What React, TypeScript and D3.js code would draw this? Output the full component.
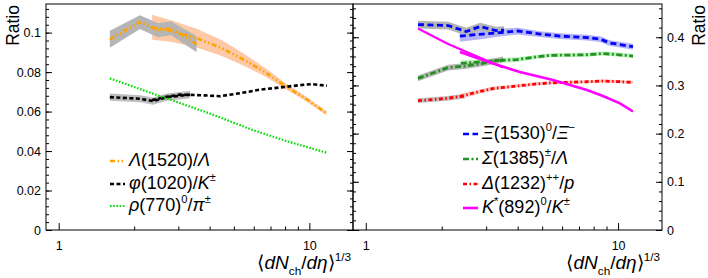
import { useEffect, useRef } from 'react';
import * as d3 from 'd3';

// ---- left panel data ----
const lambdaLowX = [1.6, 2.11, 2.49, 2.81, 3.55];
const lambdaLowY = [0.0966, 0.1053, 0.1012, 0.1022, 0.0941];
const lambdaLowErr = [0.0043, 0.0035, 0.0035, 0.0035, 0.004];
const lambdaX = [2.36, 2.83, 3.55, 4.48, 5.53, 6.65, 8.14, 9.6, 11.7];
const lambdaY = [0.1027, 0.1007, 0.0972, 0.0921, 0.086, 0.08, 0.0724, 0.0668, 0.0592];
const lambdaErr = [0.0063, 0.0055, 0.0048, 0.004, 0.003, 0.0022, 0.0015, 0.0012, 0.001];

const phiLowX = [1.6, 2.11, 2.38, 2.7, 3.34];
const phiLowY = [0.0673, 0.0665, 0.0653, 0.0673, 0.0686];
const phiLowErr = [0.0018, 0.0018, 0.0018, 0.0018, 0.0018];
const phiX = [2.36, 2.65, 3.05, 3.66, 4.4, 5.29, 6.35, 7.63, 9.17, 10.24, 11.75];
const phiY = [0.0658, 0.0673, 0.0686, 0.0683, 0.0678, 0.0693, 0.0711, 0.0722, 0.0734, 0.0739, 0.0731];

const rhoX = [1.6, 2.54, 4.01, 5.96, 8.37, 11.75];
const rhoY = [0.0768, 0.0678, 0.059, 0.0506, 0.0445, 0.0391];

// ---- right panel data ----
const xiLowX = [1.61, 2.12, 2.5, 2.84, 3.28, 3.53];
const xiLowY = [0.4263, 0.4243, 0.4118, 0.4222, 0.4139, 0.4149];
const xiLowErr = [0.008, 0.008, 0.008, 0.008, 0.008, 0.008];
const xiX = [2.36, 2.91, 3.4, 4.01, 4.9, 5.89, 7.53, 8.48, 9.29, 10.17, 11.46];
const xiY = [0.4025, 0.4066, 0.4097, 0.4129, 0.4066, 0.4025, 0.3994, 0.3963, 0.388, 0.3849, 0.3803];
const xiErr = [0.012, 0.01, 0.008, 0.007, 0.006, 0.006, 0.006, 0.006, 0.006, 0.006, 0.006];

const sigmaLowX = [1.61, 2.12, 2.47, 2.91, 3.5];
const sigmaLowY = [0.3147, 0.3371, 0.3402, 0.3459, 0.3541];
const sigmaLowErr = [0.006, 0.006, 0.006, 0.006, 0.006];
const sigmaX = [2.38, 3.11, 3.97, 4.68, 5.37, 6.45, 7.53, 8.71, 9.9, 11.46];
const sigmaY = [0.3458, 0.3506, 0.3537, 0.3589, 0.3624, 0.3631, 0.3637, 0.3662, 0.3641, 0.361];
const sigmaErr = [0.006, 0.005, 0.005, 0.004, 0.004, 0.004, 0.004, 0.004, 0.004, 0.004];

const deltaLowX = [1.61, 2.06, 2.47];
const deltaLowY = [0.2683, 0.2728, 0.278];
const deltaLowErr = [0.005, 0.005, 0.005];
const deltaX = [2.36, 2.78, 3.19, 3.97, 4.68, 5.52, 7.53, 8.71, 9.9, 11.46];
const deltaY = [0.277, 0.2863, 0.2936, 0.2988, 0.3029, 0.3056, 0.3077, 0.3091, 0.3081, 0.3064];
const deltaErr = [0.005, 0.004, 0.004, 0.003, 0.003, 0.003, 0.003, 0.003, 0.003, 0.003];

const kstarLowX = [1.61, 2.12, 3.5];
const kstarLowY = [0.4181, 0.3859, 0.3371];
const kstarX = [2.36, 3.11, 4.08, 5.52, 7.53, 8.71, 10.17, 11.46];
const kstarY = [0.3693, 0.3475, 0.3278, 0.3112, 0.2905, 0.278, 0.2629, 0.2459];

// ---- axes ----
const xMajor = [1, 10];
const xMinor = [2, 3, 4, 5, 6, 7, 8, 9];
const leftMajor = [0, 0.02, 0.04, 0.06, 0.08, 0.1];
const rightMajor = [0, 0.1, 0.2, 0.3, 0.4];

type Seg = { t: string; it?: boolean; sup?: boolean; sub?: boolean };

const FONT = "'Liberation Sans', Arial, Helvetica, sans-serif";

function richText(g: any, x: number, y: number, segs: Seg[], size: number, anchor = "start") {
    const text = g.append("text")
        .attr("x", x).attr("y", y)
        .attr("font-size", size)
        .attr("text-anchor", anchor)
        .attr("fill", "black");
    let shift = 0;
    segs.forEach(s => {
        const target = s.sup ? -0.42 * size : s.sub ? 0.3 * size : 0;
        const ts = text.append("tspan").text(s.t).attr("dy", target - shift);
        shift = target;
        if (s.it) ts.attr("font-style", "italic");
        if (s.sup || s.sub) ts.attr("font-size", size * 0.62);
    });
    return text;
}

export default function App() {
    const ref = useRef<SVGSVGElement>(null);

    useEffect(() => {
        if (!ref.current) return;
        const svg = d3.select(ref.current);
        svg.selectAll("*").remove();

        const top = 4, bottom = 230;
        const xDomain: [number, number] = [0.89, 14.93];
        const xL = d3.scaleLog().domain(xDomain).range([46, 353]);
        const xR = d3.scaleLog().domain(xDomain).range([353, 662]);
        const yL = d3.scaleLinear().domain([0, 0.1145]).range([bottom, top]);
        const yR = d3.scaleLinear().domain([0, 0.469]).range([bottom, top]);

        const root = svg.append("g").style("font-family", FONT);

        const bandsAndLines = (
            g: any, x: any, y: any,
            series: { xs: number[]; ys: number[]; err?: number[]; fill?: string; color: string; dash: string; width: number }[]
        ) => {
            const bandG = g.append("g");
            const lineG = g.append("g");
            series.forEach(s => {
                const pts = s.xs.map((v, i) => ({ x: v, y: s.ys[i], e: s.err ? s.err[i] : 0 }));
                if (s.err && s.fill) {
                    bandG.append("path")
                        .datum(pts)
                        .attr("fill", s.fill)
                        .attr("d", d3.area<any>()
                            .x(d => x(d.x))
                            .y0(d => y(d.y - d.e))
                            .y1(d => y(d.y + d.e)));
                }
                lineG.append("path")
                    .datum(pts)
                    .attr("fill", "none")
                    .attr("stroke", s.color)
                    .attr("stroke-width", s.width)
                    .attr("stroke-dasharray", s.dash)
                    .attr("d", d3.line<any>().x(d => x(d.x)).y(d => y(d.y)));
            });
        };

        const ORANGE = "#ffa200", GREEN = "#00dd00", FOREST = "#259125";
        const DASH_L = "5,2.5,1.5,2.5,1.5,2.5";
        const DASH_PHI = "4,2.5";
        const DASH_RHO = "1.6,1.6";
        const DASH_XI = "6,3.5";
        const DASH_SIG = "6,2.5,2,2.5";
        const DASH_DEL = "4,2.5,1.5,2.5";

        // Left panel curves
        bandsAndLines(root.append("g"), xL, yL, [
            { xs: lambdaX, ys: lambdaY, err: lambdaErr, fill: "#fdc9a6", color: ORANGE, dash: DASH_L, width: 2.6 },
            { xs: lambdaLowX, ys: lambdaLowY, err: lambdaLowErr, fill: "#b5b5b5", color: ORANGE, dash: DASH_L, width: 2.6 },
            { xs: phiLowX, ys: phiLowY, err: phiLowErr, fill: "#bdbdbd", color: "black", dash: DASH_PHI, width: 2.6 },
            { xs: phiX, ys: phiY, color: "black", dash: DASH_PHI, width: 2.6 },
            { xs: rhoX, ys: rhoY, color: GREEN, dash: DASH_RHO, width: 2.2 },
        ]);

        // Right panel curves
        bandsAndLines(root.append("g"), xR, yR, [
            { xs: xiX, ys: xiY, err: xiErr, fill: "#b4b4f6", color: "#0000ff", dash: DASH_XI, width: 2.8 },
            { xs: xiLowX, ys: xiLowY, err: xiLowErr, fill: "#b5b5b5", color: "#0000ff", dash: DASH_XI, width: 2.8 },
            { xs: sigmaX, ys: sigmaY, err: sigmaErr, fill: "#b6f2b6", color: FOREST, dash: DASH_SIG, width: 2.8 },
            { xs: sigmaLowX, ys: sigmaLowY, err: sigmaLowErr, fill: "#b5b5b5", color: FOREST, dash: DASH_SIG, width: 2.8 },
            { xs: deltaX, ys: deltaY, err: deltaErr, fill: "#ffc0c0", color: "#ff0000", dash: DASH_DEL, width: 2.8 },
            { xs: deltaLowX, ys: deltaLowY, err: deltaLowErr, fill: "#c0c0c0", color: "#ff0000", dash: DASH_DEL, width: 2.8 },
            { xs: kstarX, ys: kstarY, color: "#ff00ff", dash: "none", width: 2.6 },
            { xs: kstarLowX, ys: kstarLowY, color: "#ff00ff", dash: "none", width: 2.2 },
        ]);

        // Frames
        root.append("rect").attr("x", 46).attr("y", top).attr("width", 307).attr("height", bottom - top)
            .attr("fill", "none").attr("stroke", "black").attr("stroke-width", 1);
        root.append("rect").attr("x", 353).attr("y", top).attr("width", 309).attr("height", bottom - top)
            .attr("fill", "none").attr("stroke", "black").attr("stroke-width", 1);

        const styleAxis = (g: any) => {
            g.select(".domain").remove();
            g.selectAll("line").attr("stroke", "black");
            g.selectAll("text").attr("fill", "black").style("font-family", FONT).style("font-size", "12.5px");
        };

        const leftMinor = d3.range(0, 0.1145, 0.004);
        const rightMinor = d3.range(0, 0.469, 0.02);

        // Left y axis
        root.append("g").attr("transform", "translate(46,0)")
            .call(d3.axisLeft(yL).tickValues(leftMinor).tickSizeInner(-3).tickSizeOuter(0).tickFormat(() => ""))
            .call(styleAxis);
        root.append("g").attr("transform", "translate(46,0)")
            .call(d3.axisLeft(yL).tickValues(leftMajor).tickSizeInner(-6).tickSizeOuter(0).tickPadding(5)
                .tickFormat(d => String(+(+d).toFixed(3))))
            .call(styleAxis);
        // Left panel right side ticks
        root.append("g").attr("transform", "translate(353,0)")
            .call(d3.axisRight(yL).tickValues(leftMinor).tickSizeInner(-3).tickSizeOuter(0).tickFormat(() => ""))
            .call(styleAxis);
        root.append("g").attr("transform", "translate(353,0)")
            .call(d3.axisRight(yL).tickValues(leftMajor).tickSizeInner(-6).tickSizeOuter(0).tickFormat(() => ""))
            .call(styleAxis);
        // Right panel left side ticks
        root.append("g").attr("transform", "translate(353,0)")
            .call(d3.axisLeft(yR).tickValues(rightMinor).tickSizeInner(-3).tickSizeOuter(0).tickFormat(() => ""))
            .call(styleAxis);
        root.append("g").attr("transform", "translate(353,0)")
            .call(d3.axisLeft(yR).tickValues(rightMajor).tickSizeInner(-6).tickSizeOuter(0).tickFormat(() => ""))
            .call(styleAxis);
        // Right y axis
        root.append("g").attr("transform", "translate(662,0)")
            .call(d3.axisRight(yR).tickValues(rightMinor).tickSizeInner(-3).tickSizeOuter(0).tickFormat(() => ""))
            .call(styleAxis);
        root.append("g").attr("transform", "translate(662,0)")
            .call(d3.axisRight(yR).tickValues(rightMajor).tickSizeInner(-6).tickSizeOuter(0).tickPadding(5)
                .tickFormat(d => String(+(+d).toFixed(2))))
            .call(styleAxis);

        // X axes
        [xL, xR].forEach(x => {
            root.append("g").attr("transform", `translate(0,${bottom})`)
                .call(d3.axisBottom(x).tickValues(xMinor).tickSizeInner(-3.5).tickSizeOuter(0).tickFormat(() => ""))
                .call(styleAxis);
            root.append("g").attr("transform", `translate(0,${bottom})`)
                .call(d3.axisBottom(x).tickValues(xMajor).tickSizeInner(-7).tickSizeOuter(0).tickPadding(11)
                    .tickFormat(d => String(d)))
                .call(styleAxis);
        });

        // Axis titles
        const xTitle: Seg[] = [
            { t: "⟨" }, { t: "dN", it: true }, { t: "ch", sub: true }, { t: "/" },
            { t: "d", it: true }, { t: "η", it: true }, { t: "⟩" }, { t: "1/3", sup: true },
        ];
        richText(root, 351, 269, xTitle, 19, "end");
        richText(root, 660, 269, xTitle, 19, "end");

        root.append("text").attr("transform", "translate(19,5) rotate(-90)")
            .attr("text-anchor", "end").attr("font-size", 17.5).attr("fill", "black").text("Ratio");
        root.append("text").attr("transform", "translate(705,5) rotate(-90)")
            .attr("text-anchor", "end").attr("font-size", 17.5).attr("fill", "black").text("Ratio");

        // Legends
        const legendL: { segs: Seg[]; color: string; dash: string; w: number }[] = [
            { segs: [{ t: "Λ", it: true }, { t: "(1520)/" }, { t: "Λ", it: true }], color: ORANGE, dash: DASH_L, w: 2.6 },
            { segs: [{ t: "φ", it: true }, { t: "(1020)/" }, { t: "K", it: true }, { t: "±", sup: true }], color: "black", dash: DASH_PHI, w: 2.6 },
            { segs: [{ t: "ρ", it: true }, { t: "(770)" }, { t: "0", sup: true }, { t: "/" }, { t: "π", it: true }, { t: "±", sup: true }], color: GREEN, dash: DASH_RHO, w: 2.2 },
        ];
        const legendR: { segs: Seg[]; color: string; dash: string; w: number }[] = [
            { segs: [{ t: "Ξ", it: true }, { t: "(1530)" }, { t: "0", sup: true }, { t: "/" }, { t: "Ξ", it: true }, { t: "−", sup: true }], color: "#0000ff", dash: DASH_XI, w: 2.6 },
            { segs: [{ t: "Σ", it: true }, { t: "(1385)" }, { t: "±", sup: true }, { t: "/" }, { t: "Λ", it: true }], color: FOREST, dash: DASH_SIG, w: 2.6 },
            { segs: [{ t: "Δ", it: true }, { t: "(1232)" }, { t: "++", sup: true }, { t: "/" }, { t: "p", it: true }], color: "#ff0000", dash: DASH_DEL, w: 2.6 },
            { segs: [{ t: "K", it: true }, { t: "*", sup: true }, { t: "(892)" }, { t: "0", sup: true }, { t: "/" }, { t: "K", it: true }, { t: "±", sup: true }], color: "#ff00ff", dash: "none", w: 2.6 },
        ];
        const drawLegend = (items: typeof legendL, x0: number, baselines: number[]) => {
            const g = root.append("g");
            items.forEach((it, i) => {
                g.append("line").attr("x1", x0).attr("x2", x0 + 15)
                    .attr("y1", baselines[i] - 5).attr("y2", baselines[i] - 5)
                    .attr("stroke", it.color).attr("stroke-width", it.w).attr("stroke-dasharray", it.dash);
                richText(g, x0 + 19, baselines[i], it.segs, 18);
            });
        };
        drawLegend(legendL, 110, [166, 189, 211]);
        drawLegend(legendR, 463, [139, 164, 189, 213]);
    }, []);

    return (
        <svg ref={ref} width={708} height={278}
            style={{ position: "fixed", left: 0, top: 0, background: "white" }} />
    );
}
